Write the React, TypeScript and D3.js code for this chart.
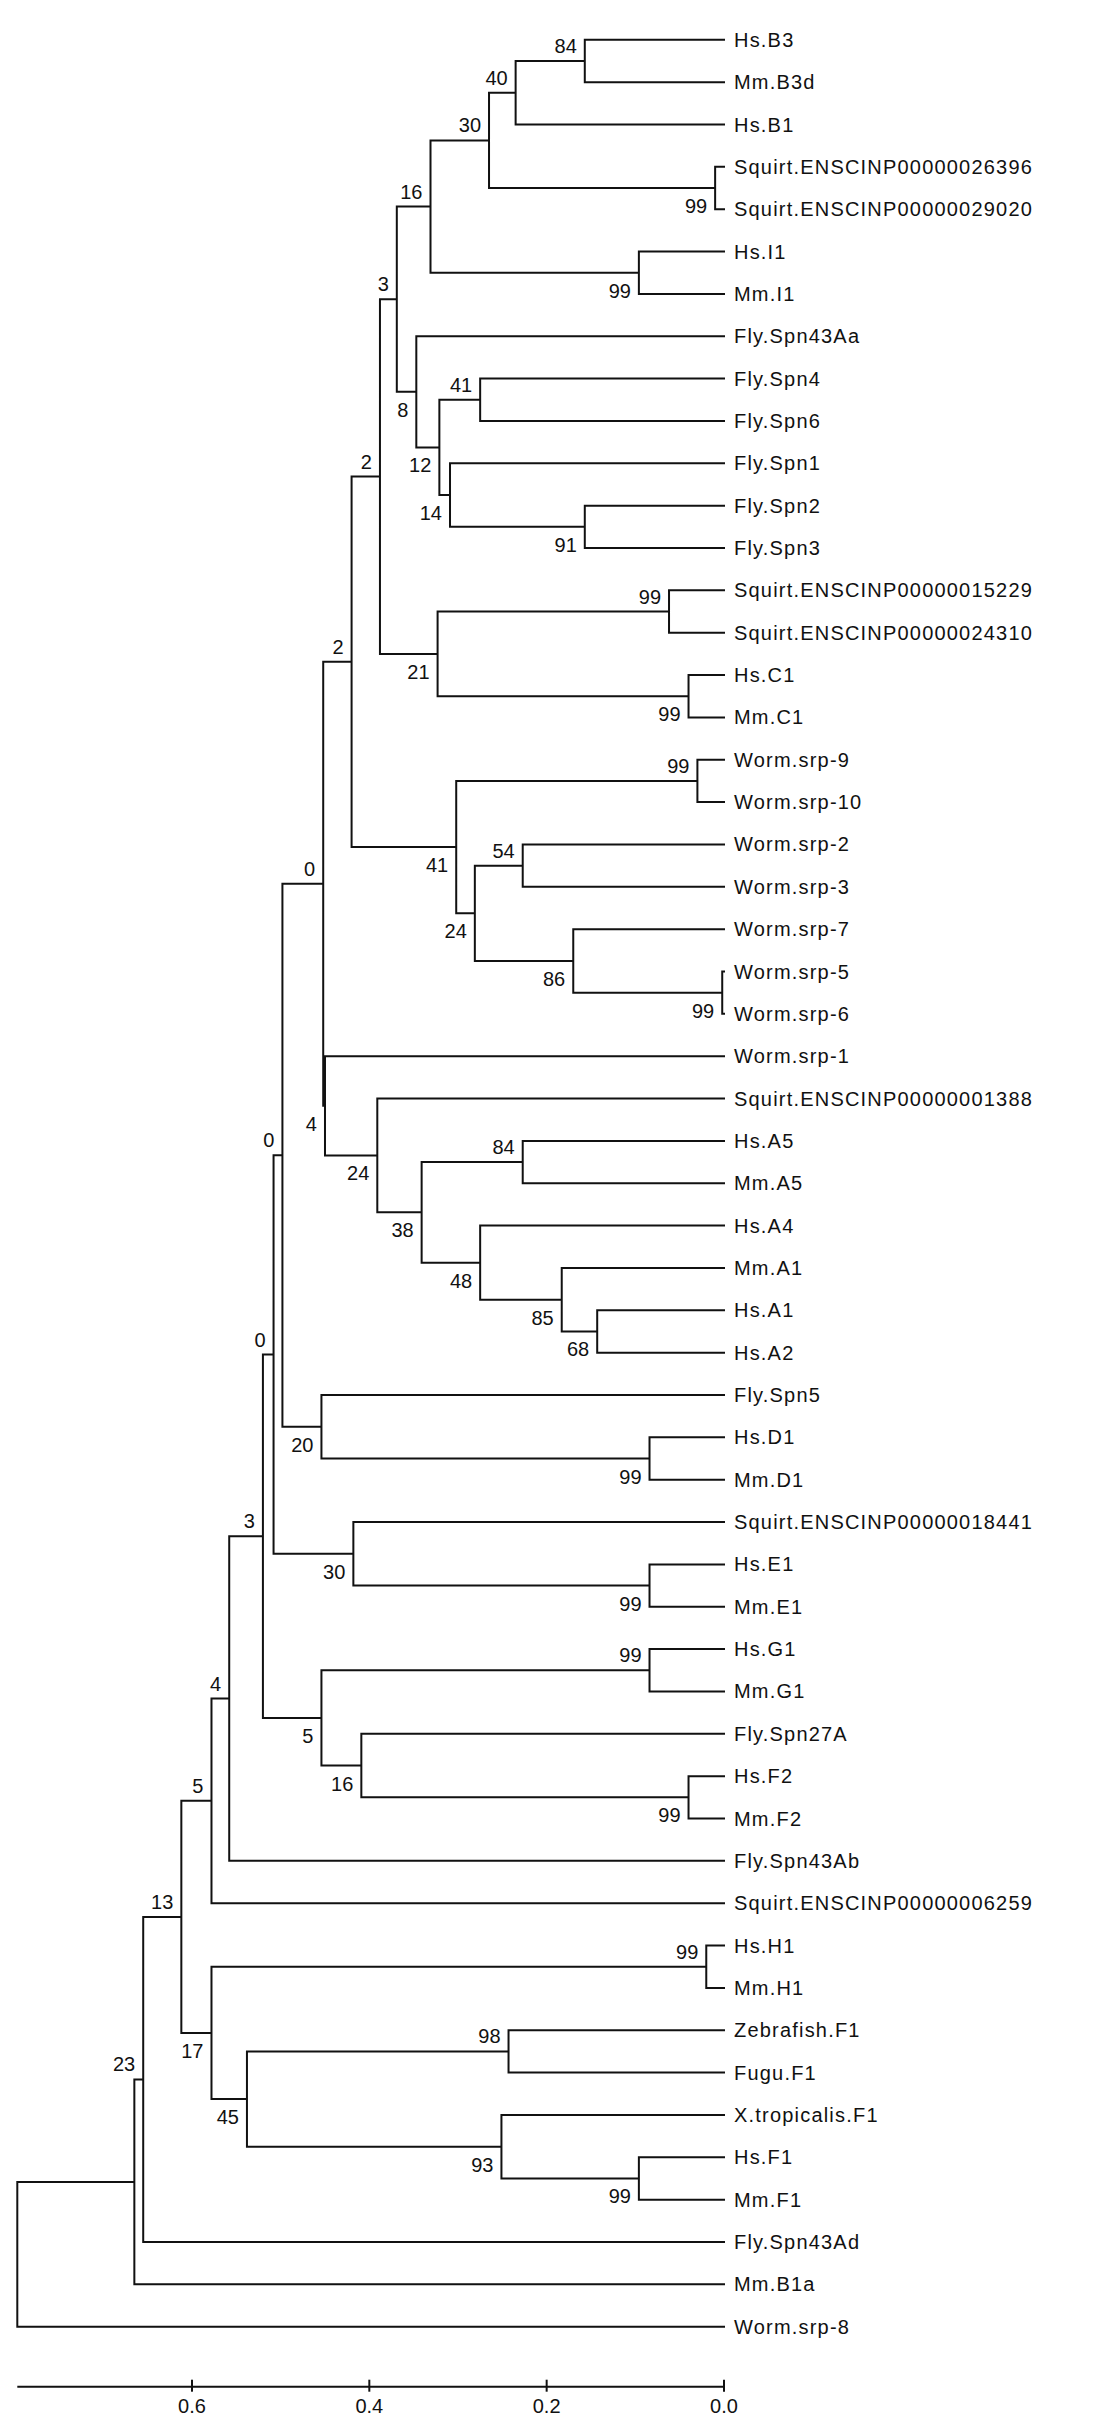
import React from "react";
import * as d3 from "d3";

// Leaf order (top to bottom)
const leafNames = [
  "Hs.B3", "Mm.B3d", "Hs.B1", "Squirt.ENSCINP00000026396", "Squirt.ENSCINP00000029020",
  "Hs.I1", "Mm.I1", "Fly.Spn43Aa", "Fly.Spn4", "Fly.Spn6", "Fly.Spn1", "Fly.Spn2", "Fly.Spn3",
  "Squirt.ENSCINP00000015229", "Squirt.ENSCINP00000024310", "Hs.C1", "Mm.C1",
  "Worm.srp-9", "Worm.srp-10", "Worm.srp-2", "Worm.srp-3", "Worm.srp-7", "Worm.srp-5", "Worm.srp-6",
  "Worm.srp-1", "Squirt.ENSCINP00000001388", "Hs.A5", "Mm.A5", "Hs.A4", "Mm.A1", "Hs.A1", "Hs.A2",
  "Fly.Spn5", "Hs.D1", "Mm.D1", "Squirt.ENSCINP00000018441", "Hs.E1", "Mm.E1",
  "Hs.G1", "Mm.G1", "Fly.Spn27A", "Hs.F2", "Mm.F2", "Fly.Spn43Ab", "Squirt.ENSCINP00000006259",
  "Hs.H1", "Mm.H1", "Zebrafish.F1", "Fugu.F1", "X.tropicalis.F1", "Hs.F1", "Mm.F1",
  "Fly.Spn43Ad", "Mm.B1a", "Worm.srp-8",
];

// Internal clades: [id, upper child, lower child, node height (distance), bootstrap]
const clades: [string, string, string, number, number | null][] = [
  ["n1", "Hs.B3", "Mm.B3d", 0.157, 84],
  ["n2", "n1", "Hs.B1", 0.235, 40],
  ["n3", "Squirt.ENSCINP00000026396", "Squirt.ENSCINP00000029020", 0.010, 99],
  ["n4", "n2", "n3", 0.265, 30],
  ["n5", "Hs.I1", "Mm.I1", 0.096, 99],
  ["n6", "n4", "n5", 0.331, 16],
  ["n7", "Fly.Spn4", "Fly.Spn6", 0.275, 41],
  ["n8", "Fly.Spn2", "Fly.Spn3", 0.157, 91],
  ["n9", "Fly.Spn1", "n8", 0.309, 14],
  ["n10", "n7", "n9", 0.321, 12],
  ["n11", "Fly.Spn43Aa", "n10", 0.347, 8],
  ["n12", "n6", "n11", 0.369, 3],
  ["n13", "Squirt.ENSCINP00000015229", "Squirt.ENSCINP00000024310", 0.062, 99],
  ["n14", "Hs.C1", "Mm.C1", 0.040, 99],
  ["n15", "n13", "n14", 0.323, 21],
  ["n16", "n12", "n15", 0.388, 2],
  ["n17", "Worm.srp-9", "Worm.srp-10", 0.030, 99],
  ["n18", "Worm.srp-2", "Worm.srp-3", 0.227, 54],
  ["n19", "Worm.srp-5", "Worm.srp-6", 0.002, 99],
  ["n20", "Worm.srp-7", "n19", 0.170, 86],
  ["n21", "n18", "n20", 0.281, 24],
  ["n22", "n17", "n21", 0.302, 41],
  ["n23", "n16", "n22", 0.420, 2],
  ["n24", "Hs.A5", "Mm.A5", 0.227, 84],
  ["n25", "Hs.A1", "Hs.A2", 0.143, 68],
  ["n26", "Mm.A1", "n25", 0.183, 85],
  ["n27", "Hs.A4", "n26", 0.275, 48],
  ["n28", "n24", "n27", 0.341, 38],
  ["n29", "Squirt.ENSCINP00000001388", "n28", 0.391, 24],
  ["n30", "Worm.srp-1", "n29", 0.450, 4],
  ["n31", "n23", "n30", 0.452, 0],
  ["n32", "Hs.D1", "Mm.D1", 0.084, 99],
  ["n33", "Fly.Spn5", "n32", 0.454, 20],
  ["n34", "n31", "n33", 0.498, 0],
  ["n35", "Hs.E1", "Mm.E1", 0.084, 99],
  ["n36", "Squirt.ENSCINP00000018441", "n35", 0.418, 30],
  ["n37", "n34", "n36", 0.508, 0],
  ["n38", "Hs.G1", "Mm.G1", 0.084, 99],
  ["n39", "Hs.F2", "Mm.F2", 0.040, 99],
  ["n40", "Fly.Spn27A", "n39", 0.409, 16],
  ["n41", "n38", "n40", 0.454, 5],
  ["n42", "n37", "n41", 0.520, 3],
  ["n43", "n42", "Fly.Spn43Ab", 0.558, 4],
  ["n44", "n43", "Squirt.ENSCINP00000006259", 0.578, 5],
  ["n45", "Hs.H1", "Mm.H1", 0.020, 99],
  ["n46", "Zebrafish.F1", "Fugu.F1", 0.243, 98],
  ["n47", "Hs.F1", "Mm.F1", 0.096, 99],
  ["n48", "X.tropicalis.F1", "n47", 0.251, 93],
  ["n49", "n46", "n48", 0.538, 45],
  ["n50", "n45", "n49", 0.578, 17],
  ["n51", "n44", "n50", 0.612, 13],
  ["n52", "n51", "Fly.Spn43Ad", 0.655, 23],
  ["n53", "n52", "Mm.B1a", 0.665, null],
  ["root", "n53", "Worm.srp-8", 0.797, null],
];

const axisTicks = [0.6, 0.4, 0.2, 0.0];

type TNode = { id: string; height: number; support: number | null; children?: TNode[] };

function buildTree(): TNode {
  const map = new Map<string, TNode>();
  leafNames.forEach((n) => map.set(n, { id: n, height: 0, support: null }));
  clades.forEach(([id, a, b, h, s]) => {
    map.set(id, { id, height: h, support: s, children: [map.get(a)!, map.get(b)!] });
  });
  return map.get("root")!;
}

export default function App() {
  const W = 1112;
  const H = 2423;
  const x = d3.scaleLinear().domain([0.8, 0]).range([724 - 0.8 * 886.7, 724]);
  const yLeaf = d3.scalePoint<string>().domain(leafNames).range([39.8, 2326.7]);

  const root = d3.hierarchy<TNode>(buildTree(), (d) => d.children);
  const ypos = new Map<any, number>();
  root.eachAfter((n) => {
    if (!n.children) ypos.set(n, yLeaf(n.data.id)!);
    else ypos.set(n, (ypos.get(n.children[0])! + ypos.get(n.children[n.children.length - 1])!) / 2);
  });

  const segs: string[] = [];
  const labels: React.ReactNode[] = [];
  root.each((n) => {
    const nx = x(n.data.height);
    const ny = ypos.get(n)!;
    if (n.children) {
      const y0 = ypos.get(n.children[0])!;
      const y1 = ypos.get(n.children[n.children.length - 1])!;
      segs.push(`M${nx},${y0}V${y1}`);
      n.children.forEach((c, i) => {
        const cx = x(c.data.height);
        const cy = ypos.get(c)!;
        segs.push(`M${nx},${cy}H${cx}`);
        if (c.data.support !== null && c.children) {
          const above = i === 0;
          labels.push(
            <text
              key={"b" + c.data.id}
              x={cx - 8}
              y={above ? cy - 8 : cy + 25}
              textAnchor="end"
              fontSize={20}
            >
              {c.data.support}
            </text>
          );
        }
      });
    } else {
      labels.push(
        <text key={"l" + n.data.id} x={nx + 10} y={ny + 7} fontSize={20} letterSpacing={1.2}>
          {n.data.id}
        </text>
      );
    }
  });

  const axisY = 2386.7;
  const rootX = x(root.data.height);

  return (
    <svg
      width={W}
      height={H}
      style={{ position: "absolute", left: 0, top: 0, background: "#fff" }}
      fontFamily="'Liberation Sans', Arial, sans-serif"
    >
      <rect width={W} height={H} fill="#fff" />
      <path d={segs.join("")} stroke="#111" strokeWidth={2} fill="none" strokeLinecap="square" />
      <g fill="#111">{labels}</g>
      <g>
        <line x1={rootX} x2={x(0)} y1={axisY} y2={axisY} stroke="#111" strokeWidth={2} />
        {axisTicks.map((t) => (
          <g key={t}>
            <line x1={x(t)} x2={x(t)} y1={axisY - 7} y2={axisY + 5} stroke="#111" strokeWidth={2} />
            <text x={x(t)} y={axisY + 26} textAnchor="middle" fontSize={20} fill="#111">
              {t.toFixed(1)}
            </text>
          </g>
        ))}
      </g>
    </svg>
  );
}
